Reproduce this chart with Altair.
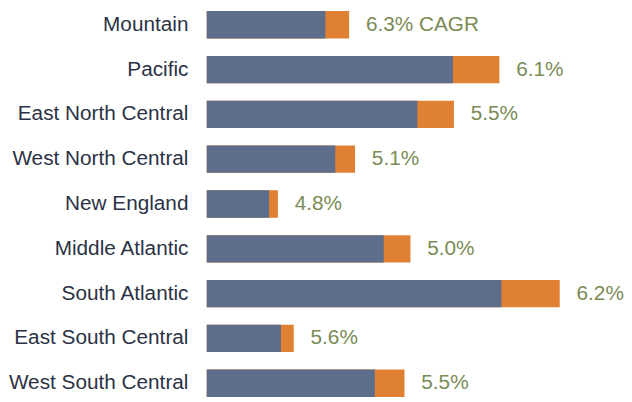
import altair as alt
import pandas as pd

regions = ["Mountain", "Pacific", "East North Central", "West North Central",
           "New England", "Middle Atlantic", "South Atlantic",
           "East South Central", "West South Central"]
base = [12.0, 24.9, 21.3, 13.0, 6.3, 17.9, 29.8, 7.5, 17.0]
growth = [2.4, 4.7, 3.7, 2.0, 0.9, 2.7, 5.9, 1.3, 3.0]
cagr = ["6.3% CAGR", "6.1%", "5.5%", "5.1%", "4.8%", "5.0%", "6.2%", "5.6%", "5.5%"]

df = pd.DataFrame({
    "region": regions,
    "base": base,
    "total": [b + g for b, g in zip(base, growth)],
    "label": cagr,
})

FONT = "Liberation Sans"
FS = 21
xs = alt.Scale(domain=[0, 41.5], nice=False, zero=True)
ys = alt.Scale(domain=regions, paddingInner=0.39, paddingOuter=0.02)

y_enc = alt.Y("region:N", sort=regions, scale=ys, title=None,
              axis=alt.Axis(domain=False, ticks=False, tickSize=0, labelPadding=19,
                            labelFont=FONT, labelFontSize=FS, labelColor="#2b3245",
                            minExtent=201, maxExtent=201, labelLimit=300))

x_enc = alt.X("total:Q", scale=xs, axis=None)

orange = alt.Chart(df).mark_bar(color="#e08033").encode(x=x_enc, y=y_enc)
blue = alt.Chart(df).mark_bar(color="#5c6e8b").encode(
    x=alt.X("base:Q", scale=xs, axis=None), y=y_enc)
text = alt.Chart(df).mark_text(align="left", baseline="middle", dx=17,
                               font=FONT, fontSize=FS, color="#7a8b55").encode(
    x=x_enc, y=y_enc, text="label:N")

chart = alt.layer(orange, blue, text).properties(
    width=415, height=392, padding=0
).configure_view(stroke=None)

chart.save("out.html", embed_options={"renderer": "svg", "actions": False})
